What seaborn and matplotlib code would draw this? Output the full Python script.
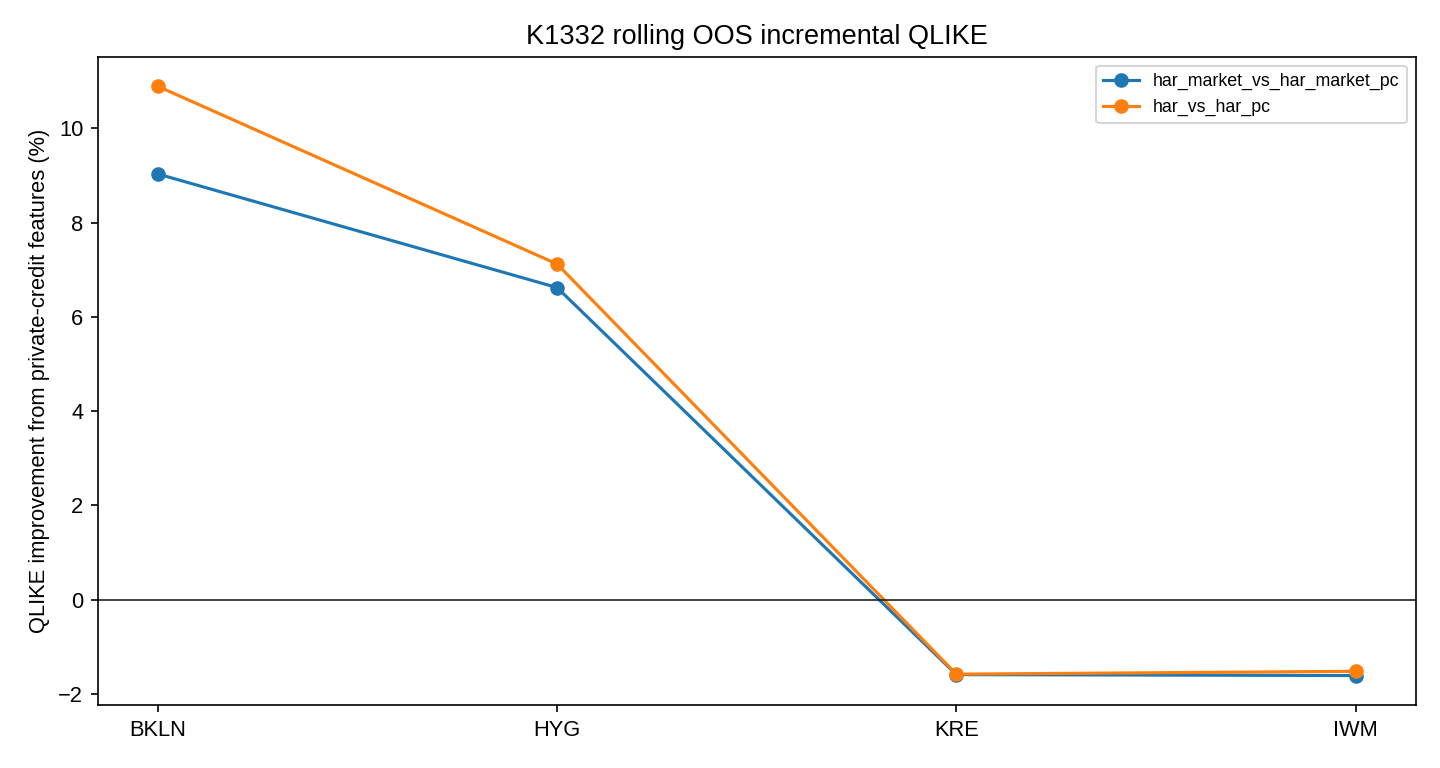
import seaborn as sns
import matplotlib
matplotlib.use("Agg")
import matplotlib.pyplot as plt
import pandas as pd

plt.rcParams['font.family'] = ['Liberation Sans', 'DejaVu Sans']
plt.rcParams['font.size'] = 10.5

tickers = ["BKLN", "HYG", "KRE", "IWM"]
har_market_vs_har_market_pc = [9.03, 6.62, -1.59, -1.61]
har_vs_har_pc = [10.89, 7.12, -1.58, -1.52]

rows = []
for name, vals in [("har_market_vs_har_market_pc", har_market_vs_har_market_pc),
                   ("har_vs_har_pc", har_vs_har_pc)]:
    for t, v in zip(tickers, vals):
        rows.append((t, v, name))
df = pd.DataFrame(rows, columns=["ticker", "value", "comparison"])

fig, ax = plt.subplots(figsize=(9.6, 5.12), dpi=150)
sns.lineplot(data=df, x="ticker", y="value", hue="comparison", marker="o",
             palette=["#1f77b4", "#ff7f0e"], markeredgewidth=0, markersize=7,
             linewidth=1.5, sort=False, ax=ax)
ax.axhline(0, color="#222222", linewidth=0.8)
ax.set_title("K1332 rolling OOS incremental QLIKE", fontsize=13)
ax.set_xlabel("")
ax.set_ylabel("QLIKE improvement from private-credit features (%)")
ax.legend(title=None, fontsize=8.5, loc="upper right")
fig.subplots_adjust(left=0.068, right=0.983, top=0.926, bottom=0.082)
fig.savefig("out.png")
